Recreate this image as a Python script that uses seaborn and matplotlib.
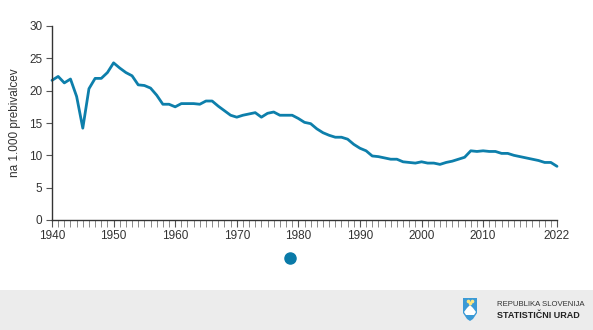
import numpy as np
import pandas as pd
import seaborn as sns
import matplotlib
matplotlib.use("Agg")
import matplotlib.pyplot as plt
from matplotlib.lines import Line2D
from matplotlib.patches import Rectangle, Polygon

# Live births per 1,000 inhabitants, Slovenia
years = list(range(1940, 2023))
rate = [
    21.6, 22.2, 21.2, 21.8, 19.1, 14.2, 20.3, 21.9, 21.9, 22.8,   # 1940-1949
    24.3, 23.5, 22.8, 22.3, 20.9, 20.8, 20.4, 19.3, 17.9, 17.9,   # 1950-1959
    17.5, 18.0, 18.0, 18.0, 17.9, 18.4, 18.4, 17.6, 16.9, 16.2,   # 1960-1969
    15.9, 16.2, 16.4, 16.6, 15.9, 16.5, 16.7, 16.2, 16.2, 16.2,   # 1970-1979
    15.7, 15.1, 14.9, 14.1, 13.5, 13.1, 12.8, 12.8, 12.5, 11.7,   # 1980-1989
    11.1, 10.7, 9.9, 9.8, 9.6, 9.4, 9.4, 9.0, 8.9, 8.8,           # 1990-1999
    9.0, 8.8, 8.8, 8.6, 8.9, 9.1, 9.4, 9.7, 10.7, 10.6,           # 2000-2009
    10.7, 10.6, 10.6, 10.3, 10.3, 10.0, 9.8, 9.6, 9.4, 9.2,       # 2010-2019
    8.9, 8.9, 8.3,                                                # 2020-2022
]
x_tick_labels = [1940, 1950, 1960, 1970, 1980, 1990, 2000, 2010, 2022]
y_ticks = [0, 5, 10, 15, 20, 25, 30]
y_label = "na 1.000 prebivalcev"

df = pd.DataFrame({"leto": years, "stopnja": rate})

sns.set_theme(style="white")
plt.rcParams["font.family"] = ["Liberation Sans", "DejaVu Sans"]

W, H = 593, 330
fig = plt.figure(figsize=(W / 100, H / 100), dpi=100)
fig.patch.set_facecolor("white")

ax = fig.add_axes([52 / W, (H - 220) / H, (557 - 52) / W, (220 - 26) / H])
line_color = "#0d7fab"
sns.lineplot(data=df, x="leto", y="stopnja", ax=ax, color=line_color,
             linewidth=2.0, clip_on=False)

ax.set_xlim(1940, 2022)
ax.set_ylim(0, 30)
ax.set_xticks(x_tick_labels)
ax.set_xticklabels([str(v) for v in x_tick_labels])
ax.set_xticks(years, minor=True)
ax.set_yticks(y_ticks)
ax.set_xlabel("")
ax.set_ylabel(y_label, fontsize=8.5, color="#333333", labelpad=6)

for side in ["top", "right"]:
    ax.spines[side].set_visible(False)
for side in ["left", "bottom"]:
    ax.spines[side].set_color("#333333")
    ax.spines[side].set_linewidth(1.0)

ax.tick_params(axis="x", which="major", bottom=True, direction="out", length=5,
               width=0.8, color="#555555", labelsize=8.5, labelcolor="#333333",
               pad=2)
ax.tick_params(axis="x", which="minor", bottom=True, direction="out", length=5,
               width=0.6, color="#777777")
ax.tick_params(axis="y", which="major", left=True, direction="out", length=4,
               width=0.8, color="#555555", labelsize=8.5, labelcolor="#333333",
               pad=3)
ax.grid(False)

# navigation dot below the chart
fig.add_artist(Line2D([290 / W], [(H - 258) / H], marker="o", markersize=8,
                      color="#0a7aa8", linestyle="none",
                      transform=fig.transFigure))

# footer band
fig.add_artist(Rectangle((0, 0), 1, 40 / H, transform=fig.transFigure,
                         facecolor="#ececec", edgecolor="none", zorder=0))


def px(x, y):
    return (x / W, (H - y) / H)


# shield emblem
shield = Polygon([px(463, 298), px(477, 298), px(477, 313), px(473, 319),
                  px(470, 321), px(467, 319), px(463, 313)],
                 closed=True, transform=fig.transFigure,
                 facecolor="#3b9ad6", edgecolor="none", zorder=2)
fig.add_artist(shield)
mount = Polygon([px(464, 312), px(467, 308), px(470, 305), px(473, 308),
                 px(476, 312), px(474, 315), px(466, 315)],
                closed=True, transform=fig.transFigure,
                facecolor="white", edgecolor="none", zorder=3)
fig.add_artist(mount)
for sx, sy in [(468, 301), (472, 301), (470, 303)]:
    fig.add_artist(Line2D([sx / W], [(H - sy) / H], marker="o", markersize=1.6,
                          color="#ffe680", linestyle="none",
                          transform=fig.transFigure, zorder=4))

fig.text(497 / W, (H - 304) / H, "REPUBLIKA SLOVENIJA", fontsize=5.6,
         color="#333333", va="center", ha="left")
fig.text(497 / W, (H - 316) / H, "STATISTIČNI URAD", fontsize=6.5,
         color="#222222", va="center", ha="left", fontweight="bold")

fig.savefig("out.png", dpi=100)
